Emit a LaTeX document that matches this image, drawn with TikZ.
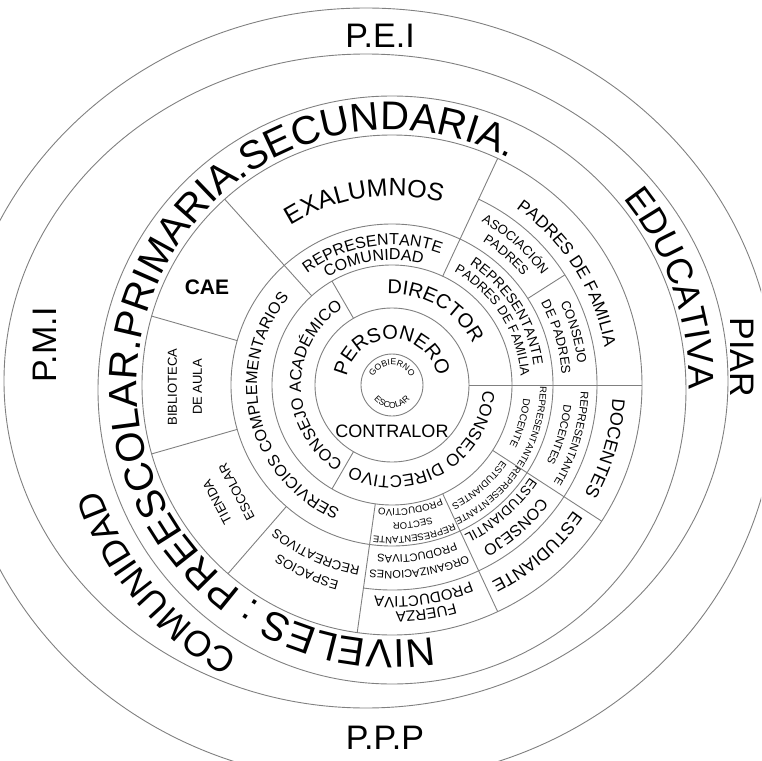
\documentclass[tikz,border=0pt]{standalone}
\usepackage{fontspec}
\setmainfont{Liberation Sans}
\usetikzlibrary{decorations.text}

\begin{document}
\begin{tikzpicture}[x=0.5pt,y=0.5pt]

    \tikzset{ring/.style={draw=black!50,line width=0.45pt},
        arctext/.style={decorate,decoration={text along path,text align=center,text={#1}}},
        flat/.style={inner sep=0pt,text=black}}

    \useasboundingbox (-392,-376) rectangle (369,385);
    \clip (-392,-376) rectangle (369,385);

    % circles and sector lines
    \foreach \r in {31,77,120,161,250}
        \draw[ring] (0,0) circle (\r);
    \draw[ring] (0,-5) circle (294);
    \draw[ring] (-26,4) ellipse[x radius=362,y radius=327];
    \draw[ring] (-26,-10) ellipse[x radius=410,y radius=387];
    \draw[ring] (-98:205) arc[start angle=-98,end angle=65,radius=205];
    \draw[ring] (0:77) -- (0:250);
    \foreach \a in {120,240} \draw[ring] (\a:77) -- (\a:120);
    \foreach \a in {65,132,-33,-65,-98} \draw[ring] (\a:120) -- (\a:250);
    \foreach \a in {164,196,229} \draw[ring] (\a:161) -- (\a:250);
    \draw[ring] (32.5:161) -- (32.5:205);

    % gobierno escolar
    \path[arctext={|\fontsize{4.3}{4.3}\selectfont|GOBIERNO}] (168:20) arc[start angle=168,end angle=12,radius=20];
    \path[arctext={|\fontsize{4.3}{4.3}\selectfont|ESCOLAR}] (200:23) arc[start angle=200,end angle=340,radius=23];
    \path[arctext={|\fontsize{10}{10}\selectfont|PERSONERO}] (175:46) arc[start angle=175,end angle=5,radius=46];
    \node[flat,font=\fontsize{9}{9}\selectfont] (contralor) at (0,-46) {CONTRALOR};

    \path[arctext={|\fontsize{10}{10}\selectfont|DIRECTOR}] (118:91) arc[start angle=118,end angle=2,radius=91];
    \path[arctext={|\fontsize{8.5}{8.5}\selectfont|CONSEJO DIRECTIVO}] (-1:91) arc[start angle=-1,end angle=-119,radius=91];
    \path[arctext={|\fontsize{8.2}{8.2}\selectfont|CONSEJO ACADÉMICO}] (239:91) arc[start angle=239,end angle=121,radius=91];

    % third ring
    \path[arctext={|\fontsize{8}{8}\selectfont|REPRESENTANTE}] (131:140) arc[start angle=131,end angle=66,radius=140];
    \path[arctext={|\fontsize{8}{8}\selectfont|COMUNIDAD}] (131:125) arc[start angle=131,end angle=66,radius=125];
    \path[arctext={|\fontsize{7}{7}\selectfont|REPRESENTANTE}] (64:143) arc[start angle=64,end angle=1,radius=143];
    \path[arctext={|\fontsize{6.5}{6.5}\selectfont|PADRES DE FAMILIA}] (65:129) arc[start angle=65,end angle=0,radius=129];
    \path[arctext={|\fontsize{4.7}{4.7}\selectfont|REPRESENTANTE}] (1:148) arc[start angle=1,end angle=-34,radius=148];
    \path[arctext={|\fontsize{5}{5}\selectfont|DOCENTE}] (-1:132) arc[start angle=-1,end angle=-32,radius=132];
    \path[arctext={|\fontsize{4.7}{4.7}\selectfont|REPRESENTANTE}] (-32:148) arc[start angle=-32,end angle=-66,radius=148];
    \path[arctext={|\fontsize{4.8}{4.8}\selectfont|ESTUDIANTES}] (-34:133) arc[start angle=-34,end angle=-64,radius=133];
    \path[arctext={|\fontsize{4.7}{4.7}\selectfont|REPRESENTANTE}] (-65:152) arc[start angle=-65,end angle=-98,radius=152];
    \path[arctext={|\fontsize{4.7}{4.7}\selectfont|SECTOR}] (-65:138) arc[start angle=-65,end angle=-98,radius=138];
    \path[arctext={|\fontsize{4.8}{4.8}\selectfont|PRODUCTIVO}] (-65:124) arc[start angle=-65,end angle=-98,radius=124];
    \path[arctext={|\fontsize{8}{8}\selectfont|SERVICIOS COMPLEMENTARIOS}] (-101:135) arc[start angle=-101,end angle=-232,radius=135];

    % fourth and fifth rings
    \path[arctext={|\fontsize{12.5}{12.5}\selectfont|EXALUMNOS}] (131:189) arc[start angle=131,end angle=66,radius=189];
    \path[arctext={|\fontsize{8.5}{8.5}\selectfont|PADRES DE FAMILIA}] (64:216) arc[start angle=64,end angle=1,radius=216];
    \path[arctext={|\fontsize{6.5}{6.5}\selectfont|ASOCIACIÓN}] (64:186) arc[start angle=64,end angle=33.5,radius=186];
    \path[arctext={|\fontsize{6.5}{6.5}\selectfont|PADRES}] (64:170) arc[start angle=64,end angle=33.5,radius=170];
    \path[arctext={|\fontsize{6.5}{6.5}\selectfont|CONSEJO}] (31.5:187) arc[start angle=31.5,end angle=1,radius=187];
    \path[arctext={|\fontsize{6.5}{6.5}\selectfont|DE PADRES}] (31.5:170) arc[start angle=31.5,end angle=1,radius=170];
    \path[arctext={|\fontsize{5.5}{5.5}\selectfont|REPRESENTANTE}] (-1:189) arc[start angle=-1,end angle=-32,radius=189];
    \path[arctext={|\fontsize{5.5}{5.5}\selectfont|DOCENTES}] (-1:173) arc[start angle=-1,end angle=-32,radius=173];
    \path[arctext={|\fontsize{9}{9}\selectfont|DOCENTES}] (-1:221) arc[start angle=-1,end angle=-32,radius=221];
    \path[arctext={|\fontsize{8}{8}\selectfont|CONSEJO}] (-34:186) arc[start angle=-34,end angle=-64,radius=186];
    \path[arctext={|\fontsize{6.8}{6.8}\selectfont|ESTUDIANTIL}] (-33:166) arc[start angle=-33,end angle=-65,radius=166];
    \path[arctext={|\fontsize{8.7}{8.7}\selectfont|ESTUDIANTE}] (-34:221) arc[start angle=-34,end angle=-64,radius=221];
    \path[arctext={|\fontsize{5.5}{5.5}\selectfont|ORGANIZACIONES}] (-65:186) arc[start angle=-65,end angle=-98,radius=186];
    \path[arctext={|\fontsize{5.5}{5.5}\selectfont|PRODUCTIVAS}] (-65:170) arc[start angle=-65,end angle=-98,radius=170];
    \path[arctext={|\fontsize{7.5}{7.5}\selectfont|FUERZA}] (-65:227) arc[start angle=-65,end angle=-98,radius=227];
    \path[arctext={|\fontsize{7.5}{7.5}\selectfont|PRODUCTIVA}] (-65:212) arc[start angle=-65,end angle=-98,radius=212];
    \path[arctext={|\fontsize{6.5}{6.5}\selectfont|ESPACIOS}] (-99:203) arc[start angle=-99,end angle=-130,radius=203];
    \path[arctext={|\fontsize{6.5}{6.5}\selectfont|RECREATIVOS}] (-99:184) arc[start angle=-99,end angle=-130,radius=184];
    \node[flat,font=\bfseries\fontsize{10.5}{10.5}\selectfont] (cae) at (-185,98) {CAE};
    \node[flat,rotate=90,align=center,font=\fontsize{6.5}{12.5}\selectfont] (biblioteca) at (-207,-2) {BIBLIOTECA\\DE AULA};
    \node[flat,rotate=118,align=center,font=\fontsize{6.5}{11}\selectfont] (tienda) at (-165,-112) {TIENDA\\ESCOLAR};

    % outer rings
    \path[arctext={|\fontsize{20}{20}\selectfont|NIVELES : PREESCOLAR.PRIMARIA.SECUNDARIA.}] (-74:255) arc[start angle=-74,end angle=-304,radius=255];
    \path[arctext={|\fontsize{18}{18}\selectfont|COMUNIDAD}] (-112:311) arc[start angle=-112,end angle=-168,radius=311];
    \path[arctext={|\fontsize{18}{18}\selectfont|EDUCATIVA}] (45:297) arc[start angle=45,end angle=-7,radius=297];

    \node[flat,font=\fontsize{17}{17}\selectfont] (pei) at (-12,349) {P.E.I};
    \node[flat,font=\fontsize{17}{17}\selectfont] (ppp) at (-7,-353) {P.P.P};
    \node[flat,font=\fontsize{17}{17}\selectfont,rotate=90] (pmi) at (-347,40) {P.M.I};
    \node[flat,font=\fontsize{17}{17}\selectfont,rotate=-90] (piar) at (350,28) {PIAR};

\end{tikzpicture}
\end{document}
